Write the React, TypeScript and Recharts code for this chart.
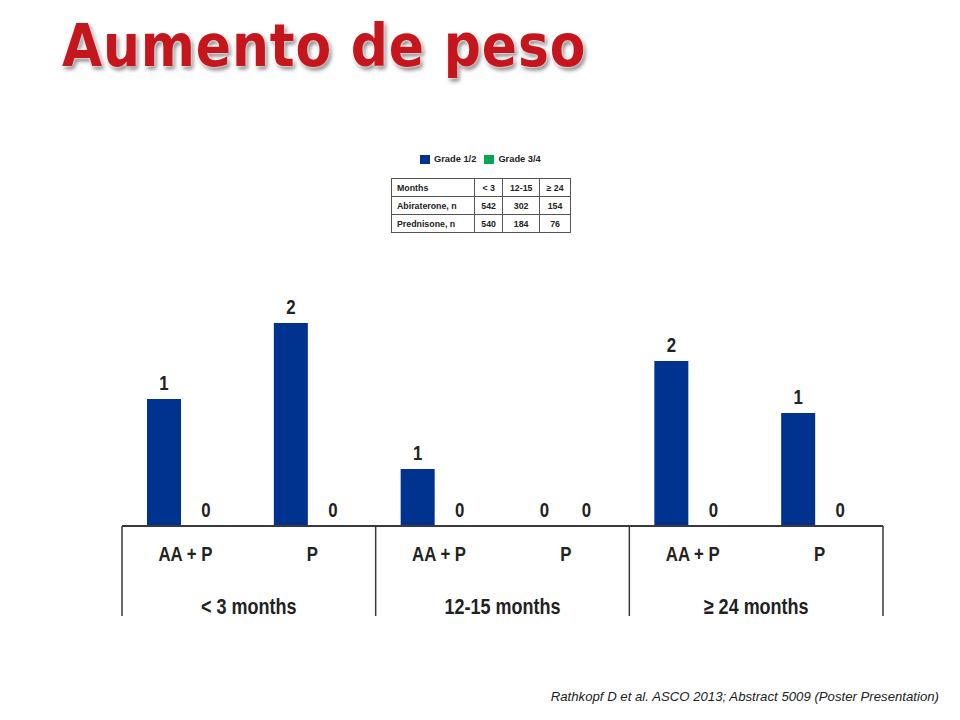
import React from 'react';
import { BarChart, Bar, XAxis, YAxis, Legend, LabelList } from 'recharts';

// categories: arm within each follow-up window
const arms = ['AA + P', 'P', 'AA + P', 'P', 'AA + P', 'P'];
const periods = ['< 3 months', '< 3 months', '12-15 months', '12-15 months', '\u2265 24 months', '\u2265 24 months'];
// weight gain, % of patients (labels on the slide are rounded)
const grade12 = [1.27, 2.03, 0.57, 0, 1.65, 1.13];
const grade34 = [0, 0, 0, 0, 0, 0];

// n table
const tableHeader = ['Months', '< 3', '12-15', '\u2265 24'];
const abirateroneN = ['Abiraterone, n', '542', '302', '154'];
const prednisoneN = ['Prednisone, n', '540', '184', '76'];

const BLUE = '#00338f';
const GREEN = '#00a651';
const AXIS = '#3a3a3a';
const SANS = "'Liberation Sans', Arial, sans-serif";
const SQUEEZE = 0.8; // slide uses a narrow bold face

const NarrowText = ({ x, y, size = 21, children }: { x: number; y: number; size?: number; children: React.ReactNode }) => (
  <text
    transform={`translate(${x},${y}) scale(${SQUEEZE},1)`}
    textAnchor="middle"
    fontFamily={SANS}
    fontWeight="bold"
    fontSize={size}
    fill="#222"
  >
    {children}
  </text>
);

const data = arms.map((arm, i) => ({
  arm,
  period: periods[i],
  g12: grade12[i],
  g34: grade34[i],
}));

const ArmTick = (props: any) => {
  const { x, y, payload, index } = props;
  const half = payload.offset || 63.4;
  const i = index ?? payload.index;
  const left = x - half;
  return (
    <g>
      <NarrowText x={x} y={y + 35}>{payload.value}</NarrowText>
      {i % 2 === 0 && (
        <>
          <line x1={left} y1={y} x2={left} y2={y + 90} stroke={AXIS} strokeWidth={1.5} />
          <NarrowText x={x + half} y={y + 88} size={22.5}>{data[i].period}</NarrowText>
        </>
      )}
      {i === data.length - 1 && (
        <line x1={x + half} y1={y} x2={x + half} y2={y + 90} stroke={AXIS} strokeWidth={1.5} />
      )}
    </g>
  );
};

const ValueLabel = (props: any) => {
  const { x, y, width, value } = props;
  return (
    <NarrowText x={Number(x) + Number(width) / 2} y={Number(y) - 9}>
      {Math.round(Number(value))}
    </NarrowText>
  );
};

const renderLegend = (props: any) => {
  const { payload } = props;
  return (
    <div style={{ display: 'flex', alignItems: 'center', fontFamily: SANS, fontWeight: 'bold', fontSize: 9.3, color: '#222' }}>
      {payload.map((entry: any) => (
        <div key={entry.value} style={{ display: 'flex', alignItems: 'center', marginRight: 8 }}>
          <span style={{ width: 10, height: 9, background: entry.color, display: 'inline-block', marginRight: 4 }} />
          {entry.value}
        </div>
      ))}
    </div>
  );
};

const cell: React.CSSProperties = {
  border: '1px solid #555',
  padding: '0 5px',
  height: 17,
  fontFamily: SANS,
  fontWeight: 'bold',
  fontSize: 8.8,
  color: '#222',
};

const App: React.FC = () => {
  return (
    <div style={{ position: 'absolute', left: 0, top: 0, width: 960, height: 720, background: '#fff', overflow: 'hidden' }}>
      <div
        style={{
          position: 'absolute',
          left: 62,
          top: 12,
          fontFamily: "'DejaVu Sans', Verdana, sans-serif",
          fontWeight: 'bold',
          fontSize: 52,
          lineHeight: '60px',
          letterSpacing: 0.8,
          color: '#c4161c',
          textShadow: '0 0 2px #fff, 0 0 3px #fff, 2px 3px 4px rgba(0,0,0,0.55)',
          whiteSpace: 'nowrap',
          transform: 'scaleY(1.12)',
          transformOrigin: 'left top',
        }}
      >
        Aumento de peso
      </div>

      <table
        style={{
          position: 'absolute',
          left: 391,
          top: 178,
          width: 180,
          borderCollapse: 'collapse',
          border: '1.5px solid #555',
        }}
      >
        <tbody>
          {[tableHeader, abirateroneN, prednisoneN].map((row, r) => (
            <tr key={r}>
              {row.map((c, j) => (
                <td key={j} style={{ ...cell, textAlign: j === 0 ? 'left' : 'center', width: j === 0 ? 72 : undefined }}>
                  {c}
                </td>
              ))}
            </tr>
          ))}
        </tbody>
      </table>

      <div style={{ position: 'absolute', left: 0, top: 0 }}>
        <BarChart
          width={960}
          height={720}
          data={data}
          margin={{ top: 226, right: 77, bottom: 94, left: 122 }}
          barSize={34}
          barGap={8}
        >
          <YAxis hide domain={[0, 3]} />
          <XAxis
            dataKey="arm"
            interval={0}
            height={100}
            tickLine={false}
            tickSize={0}
            tickMargin={0}
            axisLine={{ stroke: AXIS, strokeWidth: 2 }}
            tick={<ArmTick />}
          />
          <Legend
            layout="horizontal"
            verticalAlign="middle"
            align="center"
            wrapperStyle={{ top: 154, left: 420, width: 200 }}
            content={renderLegend}
          />
          <Bar dataKey="g12" name="Grade 1/2" fill={BLUE} minPointSize={0.01} isAnimationActive={false}>
            <LabelList dataKey="g12" position="top" content={<ValueLabel />} />
          </Bar>
          <Bar dataKey="g34" name="Grade 3/4" fill={GREEN} minPointSize={0.01} isAnimationActive={false}>
            <LabelList dataKey="g34" position="top" content={<ValueLabel />} />
          </Bar>
        </BarChart>
      </div>

      <div
        style={{
          position: 'absolute',
          right: 21,
          top: 689,
          fontFamily: SANS,
          fontStyle: 'italic',
          fontSize: 13.2,
          color: '#222',
          whiteSpace: 'nowrap',
        }}
      >
        Rathkopf D et al. ASCO 2013; Abstract 5009 (Poster Presentation)
      </div>
    </div>
  );
};

export default App;
